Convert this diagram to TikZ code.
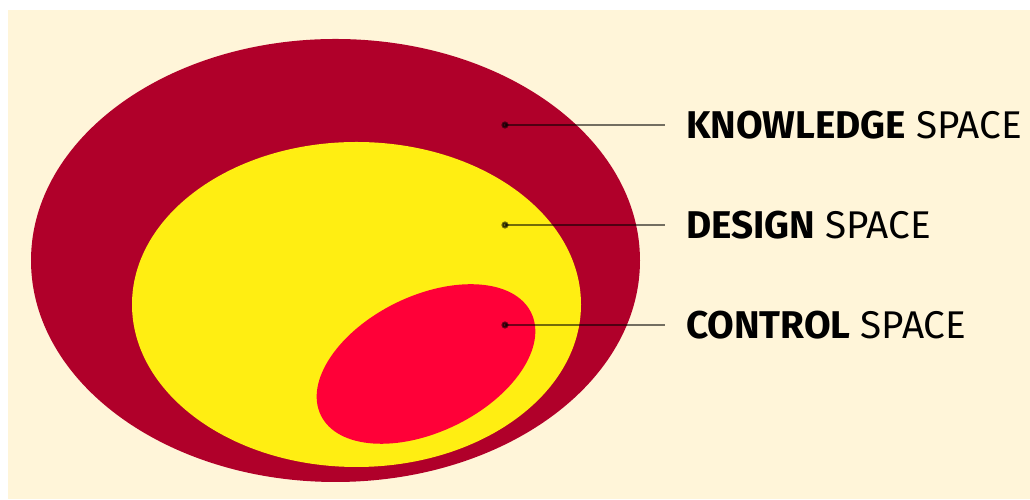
\documentclass[tikz,border=0pt]{standalone}
\usepackage{xcolor}
\usepackage{fontspec}
\setmainfont{Fira Sans}
\usepackage{tikz}
\usetikzlibrary{shapes.geometric,positioning}
\definecolor{cream}{HTML}{FFF5D9}
\definecolor{knowred}{HTML}{B0002A}
\definecolor{designyel}{HTML}{FFEE12}
\definecolor{controlred}{HTML}{FF0038}
\tikzset{
  every picture/.style = {
    line width = 0.6pt,
  }
  ,
  space/.style = {
    ellipse,
    inner sep = 0pt,
    draw = none
  }
  , % labels of spaces
  label-space/.style = {
    anchor = west,
    inner xsep = 0.2cm,
    font = \fontsize{11}{13}\selectfont
  }
  , % leader lines
  leader/.style = {
    draw = black,
    opacity = 0.55
  }
}

\begin{document}
\begin{tikzpicture}
\useasboundingbox (0,0) rectangle (10.3,5);
\fill[white] (0,0) rectangle (10.3,5);
\fill[cream] (0.08,0.01) rectangle (10.3,4.9);

\node[space, fill=knowred, minimum width=6.09cm, minimum height=4.43cm] at (3.355,2.395) (know) {};
\node[space, fill=designyel, minimum width=4.49cm, minimum height=3.25cm] at (3.565,1.955) (design) {};
\node[space, fill=controlred, minimum width=2.34cm, minimum height=1.36cm, rotate=26] at (4.26,1.36) (control) {};

\coordinate (k) at (5.05,3.75);
\coordinate (d) at (5.05,2.75);
\coordinate (c) at (5.05,1.75);

\node[label-space] at (6.65,3.75) (kl) {\textbf{KNOWLEDGE} SPACE};
\node[label-space] at (6.65,2.75) (dl) {\textbf{DESIGN} SPACE};
\node[label-space] at (6.65,1.75) (cl) {\textbf{CONTROL} SPACE};

\draw[leader] (k) -- (kl);
\draw[leader] (d) -- (dl);
\draw[leader] (c) -- (cl);
\fill[leader] (k) circle (0.025);
\fill[leader] (d) circle (0.025);
\fill[leader] (c) circle (0.025);
\end{tikzpicture}
\end{document}
